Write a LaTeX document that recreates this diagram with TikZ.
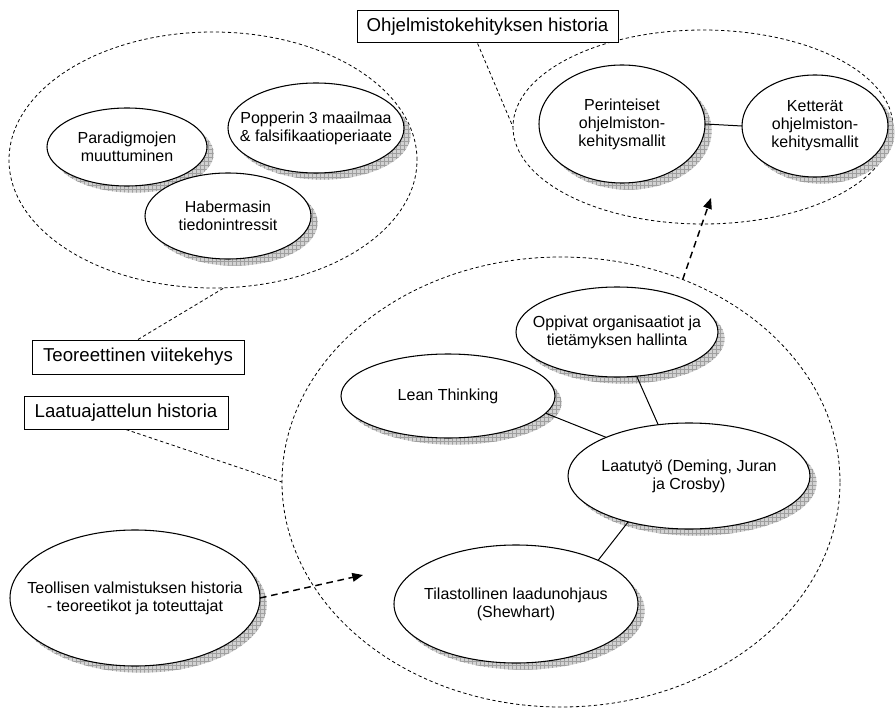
\documentclass[tikz,border=0pt]{standalone}
\usepackage{fontspec}
\setmainfont{Liberation Sans}
\usetikzlibrary{shapes.geometric,arrows.meta,shadows,patterns}
\begin{document}
\begin{tikzpicture}[x=0.75pt,y=-0.75pt,
  sz/.style 2 args={minimum width={#1*1.5pt}, minimum height={#2*1.5pt}},
  bub/.style={ellipse, draw, fill=white, line width=0.8pt, inner sep=0pt, outer sep=0pt,
    drop shadow={shadow xshift=5pt, shadow yshift=-5pt, fill=gray!35, opacity=1},
    general shadow={shadow xshift=5pt, shadow yshift=-5pt, pattern=grid, pattern color=gray!75}},
  txt/.style={align=center, inner sep=0pt, font=\fontsize{12}{13.5}\selectfont},
  grp/.style={ellipse, draw, line width=0.6pt, dash pattern=on 2.5pt off 2pt, inner sep=0pt, outer sep=0pt},
  tag/.style={draw, fill=white, line width=0.75pt, inner sep=0pt, font=\fontsize{14}{16}\selectfont},
  thinlink/.style={line width=0.6pt, dash pattern=on 2.5pt off 2pt},
  flow/.style={line width=1.1pt, dash pattern=on 5pt off 3.5pt, -{Triangle[length=8pt,width=6.5pt]}},
  tie/.style={line width=0.75pt}]

% canvas
\fill[white] (0,0) rectangle (895,709);
\useasboundingbox (0,0) rectangle (895,709);

% dashed group outlines
\node[grp, sz={204}{128}] (teo)   at (213,160) {};
\node[grp, sz={190}{97}]  (ohj)   at (703,127) {};
\node[grp, sz={279}{225}] (laatu) at (561,482) {};

% theory bubbles
\node[bub, sz={80}{39}] (par) at (127,147) {};
\node[txt] (par-t) at (par) {Paradigmojen\\muuttuminen};
\node[bub, sz={88}{45}] (pop) at (316,128) {};
\node[txt] (pop-t) at (pop) {Popperin 3 maailmaa\\\& falsifikaatioperiaate};
\node[bub, sz={83}{43}] (hab) at (228,216) {};
\node[txt] (hab-t) at (hab) {Habermasin\\tiedonintressit};

% software development bubbles
\node[bub, sz={83}{59}] (per) at (622,124) {};
\node[txt] (per-t) at (per) {Perinteiset\\ohjelmiston-\\kehitysmallit};
\node[bub, sz={73}{51}] (ket) at (815,126) {};
\node[txt] (ket-t) at (ket) {Ketterät\\ohjelmiston-\\kehitysmallit};

% quality thinking bubbles
\node[bub, sz={101}{45}] (opp) at (617,332) {};
\node[txt] (opp-t) at (opp) {Oppivat organisaatiot ja\\tietämyksen hallinta};
\node[bub, sz={107}{42}] (lean) at (448,396) {};
\node[txt] (lean-t) at (lean) {Lean Thinking};
\node[bub, sz={121}{53}] (laa) at (689,476) {};
\node[txt] (laa-t) at (laa) {Laatutyö (Deming, Juran\\ja Crosby)};
\node[bub, sz={122}{59}] (til) at (516,604) {};
\node[txt] (til-t) at (til) {Tilastollinen laadunohjaus\\(Shewhart)};

% industrial history
\node[bub, sz={125}{68}] (teol) at (135,598) {};
\node[txt] (teol-t) at (teol) {Teollisen valmistuksen historia\\- teoreetikot ja toteuttajat};

% captions
\node[tag, sz={130.5}{16}] (ohjtag) at (487.5,27)  {Ohjelmistokehityksen historia};
\node[tag, sz={106}{17}]   (teotag) at (138,357)   {Teoreettinen viitekehys};
\node[tag, sz={102}{16.5}] (laatag) at (126,412.5) {Laatuajattelun historia};

% caption leaders
\draw[thinlink] (ohjtag.-121) -- (ohj.west);
\draw[thinlink] (teotag.north) -- (teo.-85.5);
\draw[thinlink] (laatag.south) -- (laatu.west);

% solid ties between bubbles
\draw[tie] (per.east) -- (ket.west);
\draw[tie] (lean.-10.6) -- (laa.155.6);
\draw[tie] (opp.-66.5) -- (laa.121);
\draw[tie] (laa.217) -- (til.28);

% development arrows
\coordinate (tipA) at (363,575);
\coordinate (tipB) at (711,198);
\draw[flow] (teol.east) -- (tipA);
\draw[flow] (laatu.59.2) -- (tipB);
\end{tikzpicture}
\end{document}
